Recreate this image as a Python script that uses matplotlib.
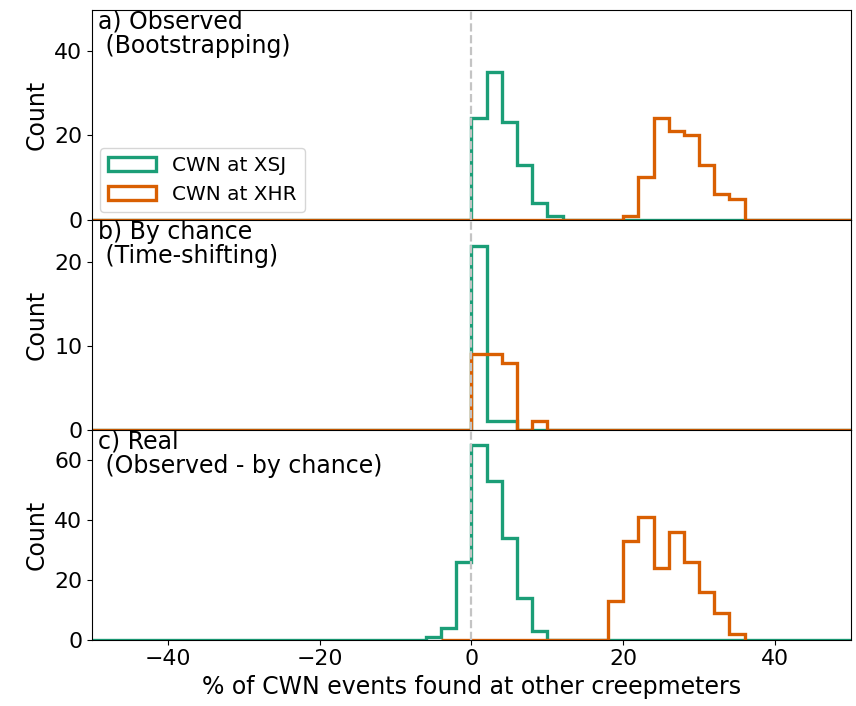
import numpy as np
import matplotlib.pyplot as plt

# bin edges (2 % wide)
edges_full = np.arange(-50, 52, 2)

# a) observed, bootstrapping
obs_xsj_left = 0
obs_xsj = [24, 35, 23, 13, 4, 1]
obs_xhr_left = 20
obs_xhr = [1, 10, 24, 21, 20, 13, 6, 5]

# b) by chance, time-shifting
chance_xsj_left = 0
chance_xsj = [22, 1, 1]
chance_xhr_left = 0
chance_xhr = [9, 9, 8, 0, 1]

# c) real = observed - by chance
real_xsj_left = -6
real_xsj = [1, 4, 26, 65, 53, 34, 14, 3]
real_xhr_left = 18
real_xhr = [13, 33, 41, 24, 36, 26, 16, 9, 2]

green = '#1b9e77'
orange = '#d95f02'


def to_full(left, counts, edges):
    # spread the counts over the full set of bins, zeros elsewhere
    full = np.zeros(len(edges) - 1)
    i0 = int(np.searchsorted(edges, left))
    full[i0:i0 + len(counts)] = counts
    return full


plt.rcParams['font.size'] = 17
plt.rcParams['xtick.labelsize'] = 15.8
plt.rcParams['ytick.labelsize'] = 15.8

fig, axes = plt.subplots(3, 1, sharex=True, figsize=(8.56, 7.06), dpi=100)
fig.subplots_adjust(left=0.1075, right=0.994, top=0.986, bottom=0.094, hspace=0)

panels = [
    ('a) Observed\n (Bootstrapping)', obs_xsj_left, obs_xsj, obs_xhr_left, obs_xhr, 49.6, [0, 20, 40]),
    ('b) By chance\n (Time-shifting)', chance_xsj_left, chance_xsj, chance_xhr_left, chance_xhr, 25.1, [0, 10, 20]),
    ('c) Real\n (Observed - by chance)', real_xsj_left, real_xsj, real_xhr_left, real_xhr, 70, [0, 20, 40, 60]),
]

for k, (ax, (title, gl, gc, ol, oc, ytop, yt)) in enumerate(zip(axes, panels)):
    g_counts = to_full(gl, gc, edges_full)
    if k == 2:
        o_edges = np.arange(-4, 38, 2)
    else:
        o_edges = edges_full
    o_counts = to_full(ol, oc, o_edges)
    ax.hist(edges_full[:-1], bins=edges_full, weights=g_counts, histtype='step',
            color=green, lw=2.4, label='CWN at XSJ')
    ax.hist(o_edges[:-1], bins=o_edges, weights=o_counts, histtype='step',
            color=orange, lw=2.4, label='CWN at XHR')
    ax.axvline(0, color='#c4c4c4', ls='--', lw=1.6, zorder=3)
    ax.set_ylim(0, ytop)
    ax.set_yticks(yt)
    ax.set_ylabel('Count')
    ax.text(0.008, 1.0, title, transform=ax.transAxes, va='top', ha='left',
            linespacing=1.0)

axes[0].legend(loc='lower left', fontsize=14.4, handlelength=2.4,
               borderaxespad=0.4)
axes[2].set_xlim(-50, 50)
axes[2].set_xticks([-40, -20, 0, 20, 40])
axes[2].set_xlabel('% of CWN events found at other creepmeters')

fig.savefig('out.png', dpi=100)
